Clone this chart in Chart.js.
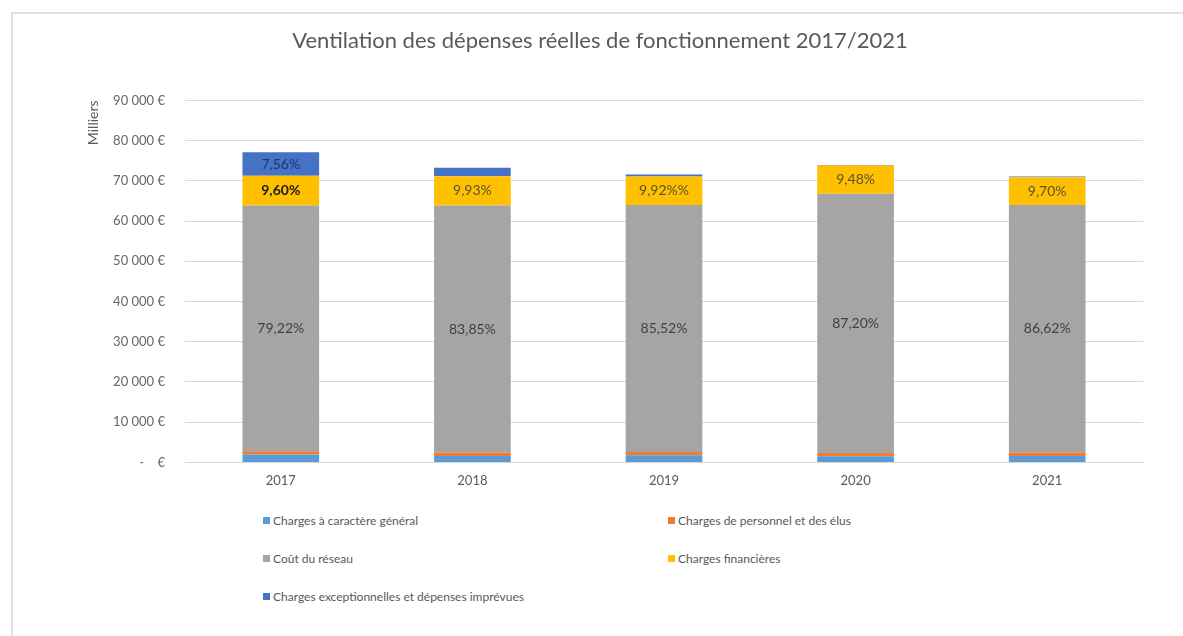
<!DOCTYPE html>
<html>
<head>
<meta charset="utf-8">
<script src="https://cdn.jsdelivr.net/npm/chart.js@4/dist/chart.umd.min.js"></script>
<style>
    html, body { margin: 0; overflow: hidden; background: #fff; font-family: Lato, sans-serif; }
    .edge-top { position: absolute; left: 11px; top: 12px; width: 1172px; height: 2px; background: #e0e0e0; }
    .edge-left { position: absolute; left: 11px; top: 12px; width: 2px; height: 624px; background: #e0e0e0; }
    .chart-box { position: absolute; left: 0; top: 0; width: 1183px; height: 500px; }
    .legend { position: absolute; left: 263px; top: 511px; display: grid; grid-template-columns: 405px 300px; row-gap: 20px; font-size: 12px; color: #595959; }
    .legend-item { display: flex; align-items: center; height: 18px; }
    .legend-box { width: 7px; height: 7px; margin-right: 3px; }
</style>
</head>
<body>
<div class="edge-top"></div>
<div class="edge-left"></div>
<div class="chart-box"><canvas id="chart"></canvas></div>
<div class="legend" id="legend"></div>
<script>
document.addEventListener('DOMContentLoaded', function() {
    // Années
    const years = ['2017', '2018', '2019', '2020', '2021'];

    // Montants (milliers d'euros)
    const chargesGenerales = [1950, 1600, 1750, 1550, 1600];
    const chargesPersonnel = [840, 800, 850, 800, 800];
    const coutReseau = [61060, 61440, 61390, 64460, 61600];
    const chargesFinancieres = [7400, 7280, 7120, 7010, 6900];
    const chargesExceptionnelles = [5830, 2150, 450, 100, 150];

    // Étiquettes affichées sur les barres
    const reseauLabels = ['79,22%', '83,85%', '85,52%', '87,20%', '86,62%'];
    const financieresLabels = ['9,60%', '9,93%', '9,92%%', '9,48%', '9,70%'];
    const exceptionnellesLabels = ['7,56%', '', '', '', ''];

    const yTicks = [0, 10000, 20000, 30000, 40000, 50000, 60000, 70000, 80000, 90000];

    function formatEuro(v) {
        if (v === 0) return '-    €';
        return Math.round(v / 1000) + ' 000 €';
    }

    // Plugin pour écrire les pourcentages au centre des segments
    const barLabels = {
        id: 'barLabels',
        afterDatasetsDraw(chart) {
            const ctx = chart.ctx;
            chart.data.datasets.forEach((ds, i) => {
                if (!ds.pctLabels) return;
                const meta = chart.getDatasetMeta(i);
                meta.data.forEach((bar, j) => {
                    const txt = ds.pctLabels[j];
                    if (!txt) return;
                    const p = bar.getProps(['x', 'y', 'base'], true);
                    const style = (ds.labelStyle && ds.labelStyle[j]) || {};
                    ctx.save();
                    ctx.font = (style.weight || 'normal') + ' 14px Lato, sans-serif';
                    ctx.fillStyle = style.color || ds.labelColor;
                    ctx.textAlign = 'center';
                    ctx.textBaseline = 'middle';
                    ctx.fillText(txt, p.x, (p.y + p.base) / 2);
                    ctx.restore();
                });
            });
        }
    };

    const ctx = document.getElementById('chart').getContext('2d');
    const chart = new Chart(ctx, {
        type: 'bar',
        data: {
            labels: years,
            datasets: [
                { label: 'Charges à caractère général', data: chargesGenerales, backgroundColor: '#5B9BD5' },
                { label: 'Charges de personnel et des élus', data: chargesPersonnel, backgroundColor: '#ED7D31' },
                { label: 'Coût du réseau', data: coutReseau, backgroundColor: '#A5A5A5',
                  pctLabels: reseauLabels, labelColor: '#404040' },
                { label: 'Charges financières', data: chargesFinancieres, backgroundColor: '#FFC000',
                  pctLabels: financieresLabels, labelColor: '#5a5230',
                  labelStyle: [{ color: '#1a1a1a', weight: 'bold' }] },
                { label: 'Charges exceptionnelles et dépenses imprévues', data: chargesExceptionnelles, backgroundColor: '#4472C4',
                  pctLabels: exceptionnellesLabels, labelColor: '#1F3864' }
            ]
        },
        options: {
            responsive: true,
            maintainAspectRatio: false,
            animation: false,
            datasets: {
                bar: { barPercentage: 0.4, categoryPercentage: 1 }
            },
            layout: { padding: { left: 57, right: 40, top: 0, bottom: 0 } },
            plugins: {
                legend: { display: false },
                tooltip: { enabled: false },
                title: {
                    display: true,
                    text: 'Ventilation des dépenses réelles de fonctionnement 2017/2021',
                    color: '#595959',
                    font: { family: 'Lato, sans-serif', size: 22, weight: 'normal' },
                    padding: { top: 28, bottom: 46 }
                }
            },
            scales: {
                x: {
                    stacked: true,
                    grid: { display: false, drawTicks: false },
                    border: { color: '#d9d9d9', width: 1 },
                    ticks: { color: '#595959', font: { family: 'Lato, sans-serif', size: 13 }, padding: 11 }
                },
                y: {
                    stacked: true,
                    min: 0,
                    max: 90000,
                    afterBuildTicks: (scale) => { scale.ticks = yTicks.map(v => ({ value: v })); },
                    afterFit: (scale) => { scale.width = 128; },
                    grid: { color: '#d9d9d9', drawTicks: false },
                    border: { display: false },
                    ticks: {
                        color: '#666666',
                        font: { family: 'Lato, sans-serif', size: 13 },
                        padding: 20,
                        callback: (v) => formatEuro(v)
                    },
                    title: {
                        display: true,
                        text: 'Milliers',
                        align: 'end',
                        color: '#595959',
                        font: { family: 'Lato, sans-serif', size: 14 },
                        padding: { top: 28, bottom: 0 }
                    }
                }
            }
        },
        plugins: [barLabels]
    });

    // Légende HTML sur deux colonnes
    const legend = document.getElementById('legend');
    chart.options.plugins.legend.labels.generateLabels(chart).forEach(item => {
        const div = document.createElement('div');
        div.className = 'legend-item';
        div.innerHTML = `<span class="legend-box" style="background:${item.fillStyle}"></span><span>${item.text}</span>`;
        legend.appendChild(div);
    });
});
</script>
</body>
</html>
